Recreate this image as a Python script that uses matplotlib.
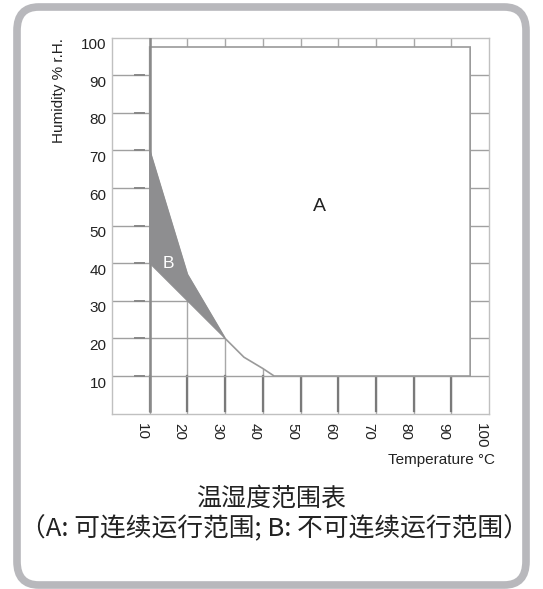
import matplotlib
matplotlib.use('Agg')
from matplotlib import pyplot as plt
from matplotlib.patches import Polygon, FancyBboxPatch
from matplotlib import transforms

# chart data
temp_ticks = [10, 20, 30, 40, 50, 60, 70, 80, 90, 100]
hum_ticks = [10, 20, 30, 40, 50, 60, 70, 80, 90, 100]

# region A: continuous operation (temperature, humidity)
region_a_t = [10, 95, 95, 43, 40, 35, 30, 20, 10]
region_a_h = [97.5, 97.5, 10, 10, 12, 15, 20, 37, 70]

# region B: non-continuous operation
region_b_t = [10, 20, 30, 20, 10]
region_b_h = [70, 37, 20, 30, 40]

label_a = (55, 55)
label_b = (15, 40)

plt.rcParams['font.family'] = ['Liberation Sans', 'DejaVu Sans']

fig = plt.figure(figsize=(5.43, 5.89), dpi=100)

# rounded frame
frame = FancyBboxPatch((17 / 543, 4 / 589), 509 / 543, 578 / 589,
                       boxstyle='round,pad=0,rounding_size=0.04',
                       transform=fig.transFigure, facecolor='white',
                       edgecolor='#b8b8bc', linewidth=5.5, zorder=-5)
fig.patches.append(frame)

ax = fig.add_axes([112 / 543, 1 - 413.6 / 589, 377 / 543, 376 / 589])
ax.set_xlim(0, 100)
ax.set_ylim(0, 100)
ax.patch.set_alpha(0)
for s in ax.spines.values():
    s.set_color('#c0c0c0')
    s.set_linewidth(1)

# grid underneath
for t in temp_ticks[:-1]:
    ax.plot([t, t], [0, 100], color='#a8a8a8', lw=1, zorder=1)
for t in temp_ticks[:-1]:
    ax.plot([t, t], [0.8, 10], color='#7a7a7a', lw=1.6, zorder=1)
for h in hum_ticks[:-1]:
    ax.plot([0, 100], [h, h], color='#a0a0a0', lw=1, zorder=1)
    ax.plot([6, 8.5], [h, h], color='#888888', lw=1.4, zorder=1)

# region A covers the grid
ax.add_patch(Polygon(list(zip(region_a_t, region_a_h)), closed=True,
                     facecolor='white', edgecolor='#9a9a9a', lw=1.2, zorder=2))
ax.plot([10, 10], [0.8, 100], color='#8a8a8a', lw=1.8, zorder=3)

# region B
ax.add_patch(Polygon(list(zip(region_b_t, region_b_h)), closed=True,
                     facecolor='#8e8e90', edgecolor='#8e8e90', lw=0.8, zorder=3))

ax.text(label_a[0], label_a[1], 'A', fontsize=14, ha='center', va='center', color='#222222', zorder=4)
ax.text(label_b[0], label_b[1], 'B', fontsize=12.5, ha='center', va='center', color='white', zorder=4)

# ticks
ax.set_xticks(temp_ticks)
ax.set_xticklabels([str(t) for t in temp_ticks], rotation=270, fontsize=11, color='#222222')
ax.set_yticks(hum_ticks)
ax.set_yticklabels([str(h) for h in hum_ticks], fontsize=11, color='#222222')
ax.tick_params(axis='both', length=0)
ax.tick_params(axis='x', pad=7)
ax.tick_params(axis='y', pad=4)
dx = transforms.ScaledTranslation(-8 / 100, 0, fig.dpi_scale_trans)
for lab in ax.get_xticklabels():
    lab.set_transform(lab.get_transform() + dx)
    lab.set_va('top')
dy = transforms.ScaledTranslation(0, -6 / 100, fig.dpi_scale_trans)
for lab in ax.get_yticklabels():
    lab.set_transform(lab.get_transform() + dy)

fig.text(495 / 543, 1 - 460 / 589, 'Temperature °C', fontsize=11, ha='right', va='center', color='#222222')
fig.text(59 / 543, 1 - 91 / 589, 'Humidity % r.H.', fontsize=11, rotation=90, ha='center', va='center', color='#222222')

cjk = ['Noto Sans CJK SC', 'DejaVu Sans']
fig.text(0.5, 1 - 499 / 589, '温湿度范围表', fontsize=18, ha='center', va='center', family=cjk, color='#222222')
fig.text(274 / 543, 1 - 529 / 589, '（A: 可连续运行范围; B: 不可连续运行范围）', fontsize=18.5,
         ha='center', va='center', family=cjk, color='#222222')

fig.savefig('out.png', dpi=100)
